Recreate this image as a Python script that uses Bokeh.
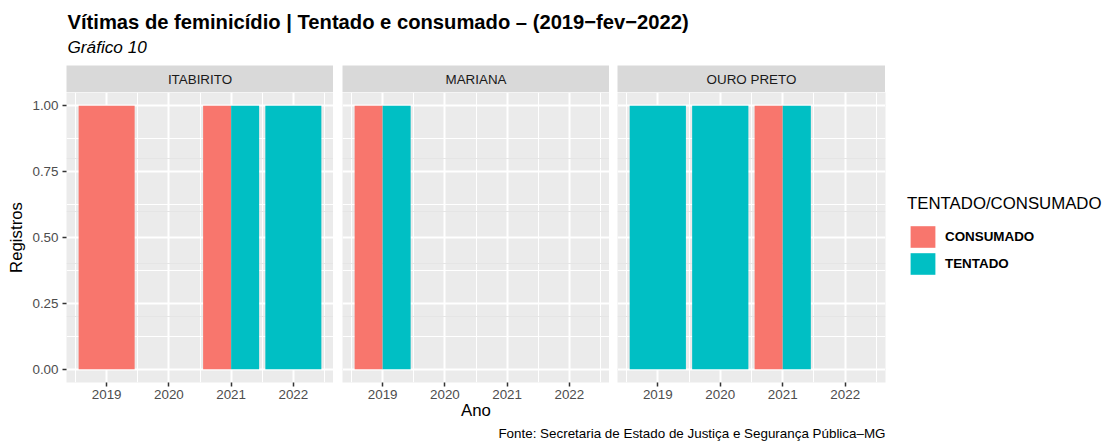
import pandas as pd
from bokeh.plotting import figure
from bokeh.layouts import column, row
from bokeh.models import (ColumnDataSource, Range1d, FixedTicker, Grid, LinearAxis,
                          NumeralTickFormatter, PrintfTickFormatter, Label, Legend, LegendItem)
from bokeh.embed import file_html
from bokeh.resources import INLINE

# ---------------- data ----------------
cidades = ["ITABIRITO", "MARIANA", "OURO PRETO"]
tipos = ["CONSUMADO", "TENTADO"]
cidade = ["ITABIRITO", "ITABIRITO", "ITABIRITO", "ITABIRITO",
          "MARIANA", "MARIANA",
          "OURO PRETO", "OURO PRETO", "OURO PRETO", "OURO PRETO"]
ano = [2019, 2021, 2021, 2022,
       2019, 2019,
       2019, 2020, 2021, 2021]
tipo = ["CONSUMADO", "CONSUMADO", "TENTADO", "TENTADO",
        "CONSUMADO", "TENTADO",
        "TENTADO", "TENTADO", "CONSUMADO", "TENTADO"]
registros = [1, 1, 1, 1, 1, 1, 1, 1, 1, 1]
anos_eixo = [2019, 2020, 2021, 2022]
y_ticks = [0.0, 0.25, 0.5, 0.75, 1.0]

titulo = "Vítimas de feminicídio | Tentado e consumado – (2019−fev−2022)"
subtitulo = "Gráfico 10"
fonte = "Fonte: Secretaria de Estado de Justiça e Segurança Pública–MG"
x_titulo = "Ano"
y_titulo = "Registros"
legenda_titulo = "TENTADO/CONSUMADO"

# ---------------- styles ----------------
cores = {"CONSUMADO": "#F8766D", "TENTADO": "#00BFC4"}
FONT = "Liberation Sans"
BAR_W = 0.9
W = 1109
HEADER_H = 65
STRIP_H = 27
PANEL_H = 290
BOTTOM_B = 40
FOOTER_H = 442 - HEADER_H - STRIP_H - PANEL_H - BOTTOM_B
left_borders = [66, 9, 8]
frame_widths = [267, 267, 268]
LEGEND_W = W - sum(left_borders) - sum(frame_widths)

# ---------------- dodge positions ----------------
df = pd.DataFrame(dict(cidade=cidade, ano=ano, tipo=tipo, registros=registros))
df["tord"] = df["tipo"].map({t: i for i, t in enumerate(tipos)})
df = df.sort_values(["cidade", "ano", "tord"]).reset_index(drop=True)
df["n"] = df.groupby(["cidade", "ano"])["tipo"].transform("count")
df["k"] = df.groupby(["cidade", "ano"]).cumcount()
df["left"] = df["ano"] - BAR_W / 2 + df["k"] * BAR_W / df["n"]
df["right"] = df["left"] + BAR_W / df["n"]
df["bottom"] = 0

x_lo = min(ano) - BAR_W / 2
x_hi = max(ano) + BAR_W / 2
xpad = 0.05 * (x_hi - x_lo)
y_lo, y_hi = 0, max(registros)
ypad = 0.05 * (y_hi - y_lo)
xr = Range1d(x_lo - xpad, x_hi + xpad)
yr = Range1d(y_lo - ypad, y_hi + ypad)

x_minor = [a - 0.5 for a in anos_eixo] + [anos_eixo[-1] + 0.5]
y_minor = [(a + b) / 2 for a, b in zip(y_ticks[:-1], y_ticks[1:])]


def blank(p):
    p.outline_line_color = None
    p.toolbar_location = None
    p.grid.visible = False


def mid_y(height, baseline_from_top, fs):
    # vertical position (bottom-up) of a text's middle whose baseline is given from the top
    return height - (baseline_from_top - 0.35 * fs)


# ---------------- header ----------------
header = figure(width=W, height=HEADER_H, x_range=Range1d(0, W), y_range=Range1d(0, HEADER_H),
                min_border=0, x_axis_location=None, y_axis_location=None,
                output_backend="svg", toolbar_location=None, title=None)
blank(header)
header.add_layout(Label(x=67, y=mid_y(HEADER_H, 28.3, 20.2), text=titulo, text_font=FONT,
                        text_font_size="20.2px", text_font_style="bold", text_color="black",
                        text_baseline="middle"))
header.add_layout(Label(x=67, y=mid_y(HEADER_H, 52.7, 17.2), text=subtitulo, text_font=FONT,
                        text_font_size="17.2px", text_font_style="italic", text_color="black",
                        text_baseline="middle"))

# ---------------- strips & panels ----------------
strips, panels = [], []
for i, cid in enumerate(cidades):
    s = figure(x_range=xr, y_range=Range1d(0, 1), frame_width=frame_widths[i], frame_height=STRIP_H,
               min_border_left=left_borders[i], min_border_right=0, min_border_top=0, min_border_bottom=0,
               x_axis_location=None, y_axis_location=None, output_backend="svg",
               toolbar_location=None, title=None, background_fill_color="#D9D9D9",
               border_fill_color="white")
    blank(s)
    s.add_layout(Label(x=(xr.start + xr.end) / 2, y=0.5, text=cid, text_font=FONT, text_font_size="13.4px",
                       text_color="#1A1A1A", text_align="center", text_baseline="middle"))
    strips.append(s)

    last = i == len(cidades) - 1
    p = figure(x_range=xr, y_range=yr, frame_width=frame_widths[i], frame_height=PANEL_H,
               min_border_left=left_borders[i], min_border_right=LEGEND_W if last else 0,
               min_border_top=0, min_border_bottom=BOTTOM_B,
               y_axis_location=None, output_backend="svg", toolbar_location=None, title=None,
               background_fill_color="#EBEBEB", border_fill_color="white")
    p.outline_line_color = None
    # x grid / axis
    p.xgrid.ticker = FixedTicker(ticks=anos_eixo, minor_ticks=x_minor)
    p.xgrid.grid_line_color = "white"
    p.xgrid.grid_line_width = 2
    p.xgrid.minor_grid_line_color = "white"
    p.xgrid.minor_grid_line_width = 1
    p.xaxis.ticker = FixedTicker(ticks=anos_eixo)
    p.xaxis.formatter = PrintfTickFormatter(format="%d")
    p.xaxis.axis_line_color = None
    p.xaxis.major_tick_line_color = "#333333"
    p.xaxis.major_tick_line_width = 1.5
    p.xaxis.major_tick_out = 4
    p.xaxis.major_tick_in = 0
    p.xaxis.minor_tick_line_color = None
    p.xaxis.major_label_standoff = 3
    p.xaxis.major_label_text_font = FONT
    p.xaxis.major_label_text_font_size = "13.4px"
    p.xaxis.major_label_text_color = "#4D4D4D"
    if i == 1:
        p.xaxis.axis_label = x_titulo
        p.xaxis.axis_label_standoff = -1
        p.xaxis.axis_label_text_font = FONT
        p.xaxis.axis_label_text_font_size = "16.8px"
        p.xaxis.axis_label_text_font_style = "normal"
        p.xaxis.axis_label_text_color = "black"
    # y grid
    yg = Grid(dimension=1, ticker=FixedTicker(ticks=y_ticks, minor_ticks=y_minor),
              grid_line_color="white", grid_line_width=2,
              minor_grid_line_color="white", minor_grid_line_width=1)
    p.add_layout(yg)
    if i == 0:
        ya = LinearAxis(ticker=FixedTicker(ticks=y_ticks), formatter=NumeralTickFormatter(format="0.00"),
                        axis_label=y_titulo, axis_line_color=None, major_tick_line_color="#333333",
                        major_tick_line_width=1.5, major_tick_out=4, major_tick_in=0,
                        minor_tick_line_color=None, major_label_standoff=4,
                        major_label_text_font=FONT, major_label_text_font_size="13.4px",
                        major_label_text_color="#4D4D4D", axis_label_standoff=3,
                        axis_label_text_font=FONT, axis_label_text_font_size="16.8px",
                        axis_label_text_font_style="normal", axis_label_text_color="black")
        p.add_layout(ya, "left")

    rends = {}
    for t in tipos:
        sub = df[(df["cidade"] == cid) & (df["tipo"] == t)]
        if len(sub) == 0:
            continue
        src = ColumnDataSource(sub[["left", "right", "bottom", "registros"]])
        rends[t] = p.quad(left="left", right="right", bottom="bottom", top="registros", source=src,
                          fill_color=cores[t], line_color=None)
    if last:
        items = [LegendItem(label=t, renderers=[rends[t]]) for t in tipos if t in rends]
        leg = Legend(items=items, title=legenda_titulo, location=(22, 105),
                     title_text_font=FONT, title_text_font_size="16.8px", title_text_font_style="normal",
                     title_text_color="black", title_standoff=9,
                     label_text_font=FONT, label_text_font_size="13.4px", label_text_font_style="bold",
                     label_text_color="black", glyph_width=31, glyph_height=27, spacing=0,
                     label_standoff=7, padding=0, margin=0, border_line_color=None,
                     background_fill_alpha=0)
        p.add_layout(leg, "right")
    panels.append(p)

# ---------------- footer ----------------
footer = figure(width=W, height=FOOTER_H, x_range=Range1d(0, W), y_range=Range1d(0, FOOTER_H),
                min_border=0, x_axis_location=None, y_axis_location=None,
                output_backend="svg", toolbar_location=None, title=None)
blank(footer)
panels_right = sum(left_borders) + sum(frame_widths)
footer.add_layout(Label(x=panels_right, y=mid_y(FOOTER_H, 16, 13.4), text=fonte, text_font=FONT,
                        text_font_size="13.4px", text_color="black", text_align="right",
                        text_baseline="middle"))

layout = column(header, row(*strips), row(*panels), footer)
open("out.html", "w").write(file_html(layout, INLINE))
